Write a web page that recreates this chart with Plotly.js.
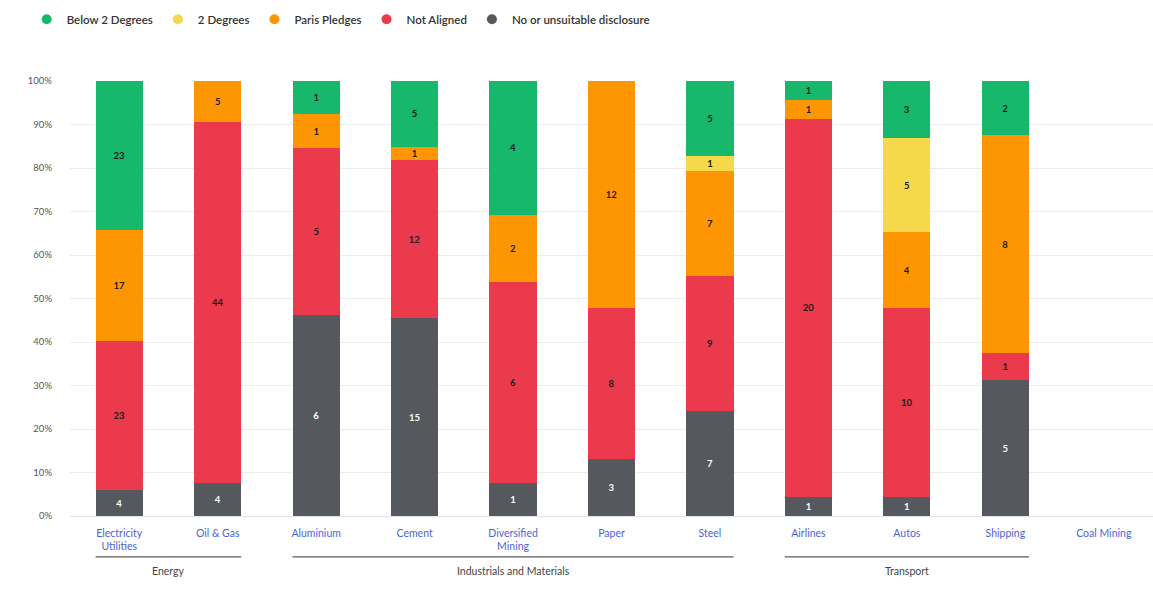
<!DOCTYPE html>
<html>
<head>
<meta charset="utf-8">
<script src="https://cdn.plot.ly/plotly-3.0.1.min.js"></script>
<style>html,body{margin:0;padding:0;background:#fff;}#chart{width:1153px;height:590px;}</style>
</head>
<body>
<div id="chart"></div>
<script>
const sectors = ["Electricity<br>Utilities", "Oil & Gas", "Aluminium", "Cement", "Diversified<br>Mining", "Paper", "Steel", "Airlines", "Autos", "Shipping", "Coal Mining"];

const seriesNames = ["No or unsuitable disclosure", "Not Aligned", "Paris Pledges", "2 Degrees", "Below 2 Degrees"];
const noDisclosure = [4, 4, 6, 15, 1, 3, 7, 1, 1, 5, null];
const notAligned   = [23, 44, 5, 12, 6, 8, 9, 20, 10, 1, null];
const parisPledges = [17, 5, 1, 1, 2, 12, 7, 1, 4, 8, null];
const twoDegrees   = [null, null, null, null, null, null, 1, null, 5, null, null];
const below2       = [23, null, 1, 5, 4, null, 5, 1, 3, 2, null];

const yTickVals = [0, 0.1, 0.2, 0.3, 0.4, 0.5, 0.6, 0.7, 0.8, 0.9, 1.0];

const groupNames = ["Energy", "Industrials and Materials", "Transport"];
const groupFirst = [0, 2, 7];
const groupLast  = [1, 6, 9];

const colors = {
  "Below 2 Degrees": "#17b86c",
  "2 Degrees": "#f6d84b",
  "Paris Pledges": "#fd9602",
  "Not Aligned": "#ea3a4b",
  "No or unsuitable disclosure": "#55585c"
};
const seriesData = {
  "No or unsuitable disclosure": noDisclosure,
  "Not Aligned": notAligned,
  "Paris Pledges": parisPledges,
  "2 Degrees": twoDegrees,
  "Below 2 Degrees": below2
};

const traces = [];
seriesNames.forEach(name => {
  const vals = seriesData[name];
  traces.push({
    type: "bar",
    name: name,
    x: sectors,
    y: vals,
    text: vals.map(v => v == null ? "" : String(v)),
    textposition: "inside",
    insidetextanchor: "middle",
    textangle: 0,
    constraintext: "none",
    textfont: {family: "Lato, 'Open Sans', sans-serif", size: 9.5, weight: 700,
               color: name === "No or unsuitable disclosure" ? "#ffffff" : "#1a1a1a"},
    marker: {color: colors[name], line: {width: 0}},
    width: 0.48,
    showlegend: false,
    hoverinfo: "skip"
  });
});

// Legend entries (circle markers)
const legendOrder = ["Below 2 Degrees", "2 Degrees", "Paris Pledges", "Not Aligned", "No or unsuitable disclosure"];
legendOrder.forEach(name => {
  traces.push({
    type: "scatter",
    mode: "markers",
    name: name,
    x: [null], y: [null],
    marker: {color: colors[name], size: 10, symbol: "circle"},
    showlegend: true,
    hoverinfo: "skip"
  });
});

const shapes = [];
const annotations = [];
groupNames.forEach((g, i) => {
  shapes.push({
    type: "line", xref: "x", yref: "paper",
    x0: groupFirst[i] - 0.24, x1: groupLast[i] + 0.24,
    y0: -0.094, y1: -0.094,
    line: {color: "#5a5a5a", width: 1.2}
  });
  annotations.push({
    xref: "x", yref: "paper",
    x: (groupFirst[i] + groupLast[i]) / 2, y: -0.126,
    text: g, showarrow: false, yanchor: "middle",
    font: {family: "Lato, 'Open Sans', sans-serif", size: 10.5, color: "#444"}
  });
});

const layout = {
  width: 1153, height: 590,
  margin: {l: 70, r: 0, t: 81, b: 74},
  paper_bgcolor: "#ffffff",
  plot_bgcolor: "#ffffff",
  barmode: "stack",
  barnorm: "fraction",
  font: {family: "Lato, 'Open Sans', sans-serif", color: "#444"},
  xaxis: {
    type: "category",
    categoryorder: "array",
    categoryarray: sectors,
    range: [-0.5, 10.5],
    tickfont: {size: 10.5, color: "#4b63d6"},
    showgrid: false,
    showline: false,
    ticks: "",
    ticklabelstandoff: 9,
    automargin: false
  },
  yaxis: {
    range: [0, 1],
    tickvals: yTickVals,
    tickformat: ".0%",
    tickfont: {size: 9.5, color: "#555"},
    gridcolor: "#ececec",
    gridwidth: 1,
    zeroline: true,
    zerolinecolor: "#dfe3ea",
    ticks: "",
    ticklabelstandoff: 17,
    automargin: false
  },
  legend: {
    orientation: "h",
    x: -0.04, xanchor: "left",
    y: 1.142, yanchor: "middle",
    font: {size: 11.5, color: "#333", weight: 600},
    itemwidth: 30,
    traceorder: "normal"
  },
  shapes: shapes,
  annotations: annotations,
  showlegend: true
};

Plotly.newPlot("chart", traces, layout, {displayModeBar: false, staticPlot: true});
</script>
</body>
</html>
